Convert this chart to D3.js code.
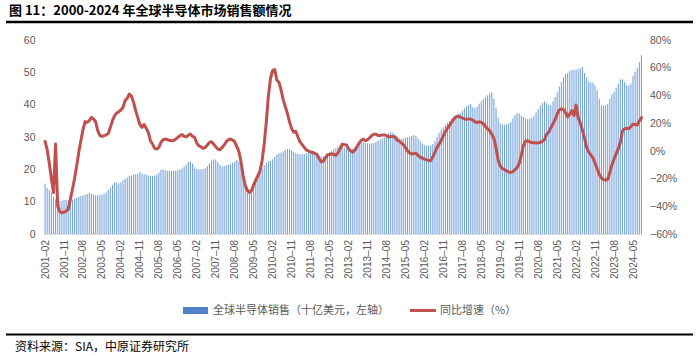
<!DOCTYPE html>
<html><head><meta charset="utf-8">
<script src="https://cdn.jsdelivr.net/npm/d3@7"></script>
<style>
html,body{margin:0;padding:0;background:#fff;}
svg{display:block;}
</style></head><body>
<svg id="chart" width="700" height="356"></svg>
<script>
// ---- DATA (monthly, 2001-02 .. 2024-09) ----
const startYear = 2001, startMonth = 2;
const sales = [
/*2001*/ 15.6,14.3,13.6,12.8,11.5,10.7,10.3,10.2,10.3,10.5,10.6,
/*2002*/ 10.5,10.4,10.6,10.9,11.2,11.5,11.7,11.9,12.1,12.4,12.7,12.5,
/*2003*/ 12.2,12.0,12.0,12.1,12.2,12.4,12.9,13.6,14.3,15.2,16.0,15.8,
/*2004*/ 15.6,16.0,16.7,17.1,17.4,17.9,18.1,18.3,18.5,18.7,19.1,18.7,
/*2005*/ 18.5,18.3,18.1,18.0,18.0,18.1,18.3,19.0,19.8,20.0,19.7,19.5,
/*2006*/ 19.5,19.5,19.5,19.6,19.8,20.0,20.3,20.8,21.5,22.3,22.4,21.8,
/*2007*/ 20.6,20.1,20.0,20.0,20.1,20.4,21.0,21.8,22.7,23.1,23.0,22.2,
/*2008*/ 21.4,20.9,21.0,21.3,21.5,21.6,22.0,22.4,22.9,22.3,20.3,17.5,
/*2009*/ 14.6,13.6,13.6,14.5,15.5,16.7,17.9,19.1,20.3,21.3,22.0,22.5,
/*2010*/ 22.6,23.1,23.9,24.6,25.0,25.2,25.5,26.0,26.3,26.3,25.9,25.4,
/*2011*/ 25.1,24.8,24.6,24.7,24.8,25.0,25.3,25.6,25.7,25.4,25.0,24.2,
/*2012*/ 24.0,24.0,24.3,24.9,25.3,25.8,26.2,26.5,27.1,27.5,27.6,26.8,
/*2013*/ 26.4,25.7,25.9,26.4,27.0,27.5,27.8,28.1,28.3,28.1,28.0,28.0,
/*2014*/ 28.0,28.1,28.5,28.8,29.2,29.5,29.9,30.5,31.2,31.5,31.3,30.8,
/*2015*/ 30.3,29.8,29.4,29.6,29.8,29.9,30.0,30.3,30.6,30.3,29.5,28.8,
/*2016*/ 28.0,27.5,27.3,27.3,27.4,27.8,28.8,30.0,31.3,32.3,33.0,33.8,
/*2017*/ 34.4,35.0,35.6,36.3,36.7,37.0,37.4,38.2,38.9,39.5,39.9,40.2,
/*2018*/ 39.2,38.9,39.4,40.3,41.0,41.7,42.3,42.9,43.5,43.8,41.8,39.0,
/*2019*/ 36.0,34.3,33.9,33.8,33.9,34.2,34.6,35.8,36.8,37.4,37.3,36.6,
/*2020*/ 36.2,35.7,35.5,35.7,36.0,36.6,37.6,38.7,39.8,40.5,41.0,40.5,
/*2021*/ 40.0,39.8,41.0,42.4,43.8,45.6,47.0,48.5,49.4,49.8,50.5,50.8,
/*2022*/ 50.7,50.8,51.0,51.2,51.7,49.8,48.5,47.2,46.9,46.8,46.0,44.5,
/*2023*/ 41.8,39.8,39.6,39.8,40.3,41.8,43.2,44.0,45.3,46.5,47.8,47.8,
/*2024*/ 47.0,46.0,45.9,46.5,49.0,50.2,51.4,53.2,55.3
];
const yoy = [
/*2001*/ 6.8,1,-9,-20,-30,5,-40,-44,-44.6,-44.3,-43.5,
/*2002*/ -42,-35,-27.7,-20,-10.8,-1.1,7.3,15.3,21.1,20.6,21.8,24.2,
/*2003*/ 23,21,14.6,11.2,10.4,10.9,11.6,12.6,17,21.8,25.4,27.3,
/*2004*/ 28.3,29.5,31.4,36.3,38,41,39.5,35,29,24,19,17,
/*2005*/ 19,16.4,13.3,7.3,4.9,1.8,1.3,2.5,6.1,8,8.5,8.2,
/*2006*/ 7.6,7.3,7.4,8.5,9.7,10.9,11.7,10.4,10.1,11.4,12.1,10.4,
/*2007*/ 9.7,5.6,3.7,2.9,1.8,2.5,4.2,6.1,6.6,4.9,2.9,1.3,
/*2008*/ 0.8,2.5,4.2,6.6,8,8.5,7.8,6.6,3,-0.5,-8,-18,
/*2009*/ -25,-28.5,-30,-28.5,-24.5,-21,-18,-14.5,-7,5,21,40,
/*2010*/ 52.4,58,58.7,51,49.5,44,37,32,27,21,16,13.5,
/*2011*/ 14,10,6.5,4.5,2.5,0.5,0,-0.8,-1.2,-1.8,-2.5,-5.5,
/*2012*/ -8,-7.5,-5,-3,-2.5,-2.2,-2.5,-3.2,-1.5,1.5,4.8,4.5,
/*2013*/ 4.2,1.5,0,-1,0.5,3,5.6,7.5,8.5,7.3,8,9.5,
/*2014*/ 11,12,12,11,11,11.5,11.5,11,10,10.3,10.3,10,
/*2015*/ 8,7,5.8,4.5,2.5,0,-1.5,-2.3,-2,-1.8,-3.2,-4.6,
/*2016*/ -5.2,-6,-6.5,-7,-7.2,-4.5,-1,2.5,5,7.5,11,14,
/*2017*/ 16.5,18.5,21,23,24.5,25,24.3,23.8,23,22.8,23,23,
/*2018*/ 22,21,20.3,21,20.5,19.5,17.5,15.8,14.5,12,9,2,
/*2019*/ -6.5,-11,-12.7,-13.5,-14.5,-15.3,-15.6,-15,-13.5,-12,-9,-3,
/*2020*/ 4,7,7.3,6.5,6,5.8,5.6,5.8,6.2,6.8,8,12,
/*2021*/ 13.5,16.5,19.5,22.5,26.5,29.5,30.3,29.8,27.5,24.5,26.5,29,
/*2022*/ 25.5,33,24,20,15,9,2.5,-1,-3,-5,-9,-13,
/*2023*/ -17,-19.5,-20.8,-21,-20.5,-15.5,-10,-6,-2,1.5,6,14.5,
/*2024*/ 16,16.3,16,17.5,19.3,19,18.6,21.5,24
];
const tickLabels = ["2001-02","2001-11","2002-08","2003-05","2004-02","2004-11","2005-08","2006-05",
"2007-02","2007-11","2008-08","2009-05","2010-02","2010-11","2011-08","2012-05","2013-02","2013-11",
"2014-08","2015-05","2016-02","2016-11","2017-08","2018-05","2019-02","2019-11","2020-08","2021-05",
"2022-02","2022-11","2023-08","2024-05"];
const leftTicks = [0,10,20,30,40,50,60];
const rightTicks = [-60,-40,-20,0,20,40,60,80];
const titleText = "图 11：2000-2024 年全球半导体市场销售额情况";
const legendNames = ["全球半导体销售（十亿美元，左轴）","同比增速（%）"];
const sourceText = "资料来源：SIA，中原证券研究所";

// categories
const categories = sales.map((_, i) => {
  const m0 = (startMonth - 1) + i;
  const yy = startYear + Math.floor(m0 / 12);
  const mm = (m0 % 12) + 1;
  return yy + "-" + String(mm).padStart(2, "0");
});

// ---- DRAW ----
const svg = d3.select("#chart");
const latin = "'Liberation Sans', Arial, sans-serif";
const cjk = "'Noto Sans CJK SC', 'Liberation Sans', sans-serif";
const axisColor = "#595959";
const barColor = "#72a0dc";
const lineColor = "#c0504d";

const plotL = 44, plotR = 642.5, plotT = 40, plotB = 234;
const x = d3.scaleBand().domain(categories).range([plotL, plotR]).paddingInner(0.5).paddingOuter(0.25);
const yL = d3.scaleLinear().domain([0, 60]).range([plotB, plotT]);
const yR = d3.scaleLinear().domain([-60, 80]).range([plotB, plotT]);
const cx = c => x(c) + x.bandwidth() / 2;

// title
svg.append("text").attr("x", 9).attr("y", 15).attr("font-family", cjk)
  .attr("font-weight", "bold").attr("font-size", 13).attr("fill", "#000").text(titleText);
svg.append("line").attr("x1", 6).attr("x2", 693).attr("y1", 22).attr("y2", 22)
  .attr("stroke", "#000").attr("stroke-width", 2.4);

// baseline
svg.append("line").attr("x1", plotL).attr("x2", plotR).attr("y1", plotB + 0.5).attr("y2", plotB + 0.5)
  .attr("stroke", "#d9d9d9").attr("stroke-width", 1);

// bars
svg.append("g").selectAll("rect").data(sales).join("rect")
  .attr("x", (d, i) => x(categories[i]))
  .attr("y", d => yL(d))
  .attr("width", x.bandwidth())
  .attr("height", d => plotB - yL(d))
  .attr("fill", barColor);

// line
const line = d3.line().x((d, i) => cx(categories[i])).y(d => yR(d));
svg.append("path").datum(yoy).attr("d", line).attr("fill", "none")
  .attr("stroke", lineColor).attr("stroke-width", 3).attr("stroke-linejoin", "round").attr("stroke-linecap", "round");

// left axis labels
svg.append("g").selectAll("text").data(leftTicks).join("text")
  .attr("x", 35.5).attr("y", d => yL(d)).attr("dy", "0.35em").attr("text-anchor", "end")
  .attr("font-family", latin).attr("font-size", 10.5).attr("fill", axisColor).text(d => d);

// right axis labels
svg.append("g").selectAll("text").data(rightTicks).join("text")
  .attr("x", 650).attr("y", d => yR(d)).attr("dy", "0.35em").attr("text-anchor", "start")
  .attr("font-family", latin).attr("font-size", 10.5).attr("fill", axisColor)
  .text(d => (d < 0 ? "\u2212" + Math.abs(d) : d) + "%");

// x labels
svg.append("g").selectAll("text").data(tickLabels).join("text")
  .attr("transform", d => `translate(${cx(d)},${plotB + 6}) rotate(-90)`)
  .attr("dy", "0.35em").attr("text-anchor", "end")
  .attr("font-family", latin).attr("font-size", 10).attr("fill", axisColor)
  .text(d => d.replace("-", "\u2013"));

// legend
const lg = svg.append("g");
lg.append("rect").attr("x", 183).attr("y", 307).attr("width", 25).attr("height", 7).attr("fill", "#4f81c9");
lg.append("text").attr("x", 213).attr("y", 310.5).attr("dy", "0.35em").attr("font-family", cjk)
  .attr("font-size", 11).attr("fill", axisColor).text(legendNames[0]);
lg.append("line").attr("x1", 410).attr("x2", 436).attr("y1", 310.5).attr("y2", 310.5)
  .attr("stroke", lineColor).attr("stroke-width", 3);
lg.append("text").attr("x", 440).attr("y", 310.5).attr("dy", "0.35em").attr("font-family", cjk)
  .attr("font-size", 11).attr("fill", axisColor).text(legendNames[1]);

// footer
svg.append("line").attr("x1", 6).attr("x2", 693).attr("y1", 334.5).attr("y2", 334.5)
  .attr("stroke", "#000").attr("stroke-width", 2);
svg.append("text").attr("x", 15).attr("y", 346.5).attr("dy", "0.35em").attr("font-family", cjk)
  .attr("font-size", 12).attr("fill", "#000").text(sourceText);
</script>
</body></html>
